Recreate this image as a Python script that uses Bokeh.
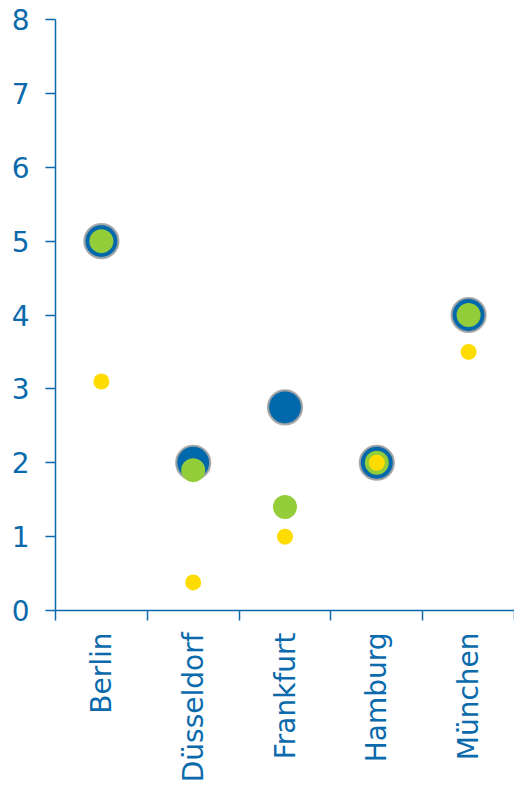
import math
from bokeh.plotting import figure
from bokeh.models import Range1d, FixedTicker, ColumnDataSource
from bokeh.embed import file_html
from bokeh.resources import INLINE

# Cities and the three measured series
cities = ["Berlin", "Düsseldorf", "Frankfurt", "Hamburg", "München"]
series_blue = [5.0, 2.0, 2.75, 2.0, 4.0]
series_green = [5.0, 1.9, 1.4, 2.0, 4.0]
series_yellow = [3.1, 0.38, 1.0, 2.0, 3.5]
y_ticks = [0, 1, 2, 3, 4, 5, 6, 7, 8]

AXIS_BLUE = "#0a6aab"
BLUE = "#0068ab"
GREEN = "#93cd3a"
YELLOW = "#ffdc00"
FONT = "DejaVu Sans"

# Each city sits in the middle of its own unit-wide slot
centers = [i + 0.5 for i in range(len(cities))]
source = ColumnDataSource(dict(x=centers, blue=series_blue,
                               green=series_green, yellow=series_yellow))

p = figure(width=514, height=785, output_backend="svg", toolbar_location=None,
           x_range=Range1d(0, len(cities)), y_range=Range1d(0, 8),
           min_border_left=55, min_border_right=0,
           min_border_top=19, min_border_bottom=175)
p.outline_line_color = None
p.grid.visible = False
p.background_fill_color = "white"
p.border_fill_color = "white"

p.scatter("x", "blue", source=source, size=34, fill_color=BLUE,
          line_color="#a3a3a3", line_width=2.2, line_alpha=0.9)
p.scatter("x", "green", source=source, size=24, fill_color=GREEN,
          line_color=None)
p.scatter("x", "yellow", source=source, size=16, fill_color=YELLOW,
          line_color=None)

# x axis: labels at slot centres, tick marks on slot boundaries
xa = p.xaxis[0]
xa.ticker = FixedTicker(ticks=centers,
                        minor_ticks=list(range(len(cities) + 1)))
xa.major_label_overrides = {c: name for c, name in zip(centers, cities)}
xa.major_tick_in = 0
xa.major_tick_out = 0
xa.minor_tick_in = 0
xa.minor_tick_out = 10
xa.minor_tick_line_color = AXIS_BLUE
xa.minor_tick_line_width = 1.5
xa.major_label_orientation = math.pi / 2
xa.major_label_standoff = 12

ya = p.yaxis[0]
ya.ticker = FixedTicker(ticks=y_ticks)
ya.major_tick_in = 0
ya.major_tick_out = 10
ya.minor_tick_line_color = None
ya.major_label_standoff = 16
ya.major_tick_line_color = AXIS_BLUE
ya.major_tick_line_width = 1.5

for ax in (xa, ya):
    ax.axis_line_color = AXIS_BLUE
    ax.axis_line_width = 1.5
    ax.major_label_text_color = AXIS_BLUE
    ax.major_label_text_font = FONT
    ax.major_label_text_font_size = "28px"

open("out.html", "w").write(file_html(p, INLINE))
